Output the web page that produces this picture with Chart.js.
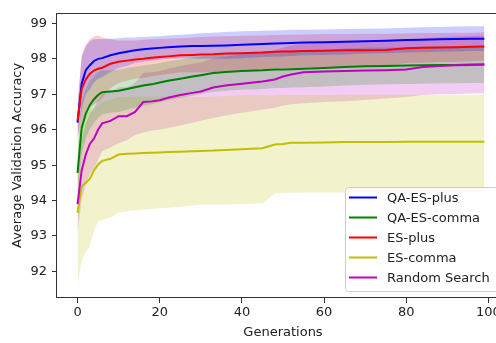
<!DOCTYPE html>
<html>
<head>
<meta charset="utf-8">
<script src="https://cdn.jsdelivr.net/npm/chart.js@4.4.0/dist/chart.umd.min.js"></script>
<style>
  html, body { margin: 0; padding: 0; background: #fff; overflow: hidden; }
  #wrap { width: 496px; height: 343px; overflow: hidden; }
</style>
</head>
<body>
<div id="wrap"><canvas id="accChart" width="520" height="343"></canvas></div>
<script>
// --- Data ---
const generations = [0, 1, 2, 3, 4, 5, 6, 8, 10, 12, 14, 16,
  18, 20, 22, 25, 28, 30, 33, 36, 40, 45, 48, 50,
  52, 55, 60, 65, 70, 75, 80, 84, 88, 92, 96, 99];

const qaEsPlusMean = [96.2, 97.3, 97.68, 97.82, 97.94, 98.0, 98.02, 98.1, 98.16, 98.2, 98.24, 98.27,
  98.29, 98.31, 98.33, 98.35, 98.36, 98.36, 98.37, 98.38, 98.4, 98.42, 98.43, 98.44,
  98.45, 98.46, 98.47, 98.48, 98.5, 98.51, 98.53, 98.54, 98.55, 98.56, 98.57, 98.57];
const qaEsPlusHigh = [96.7, 98.05, 98.35, 98.5, 98.55, 98.56, 98.56, 98.57, 98.58, 98.6, 98.6, 98.62,
  98.63, 98.64, 98.66, 98.68, 98.7, 98.72, 98.74, 98.76, 98.78, 98.79, 98.8, 98.81,
  98.82, 98.82, 98.83, 98.84, 98.85, 98.86, 98.88, 98.89, 98.9, 98.91, 98.92, 98.92];
const qaEsPlusLow = [95.7, 96.55, 97.0, 97.14, 97.33, 97.44, 97.48, 97.63, 97.74, 97.8, 97.88, 97.92,
  97.95, 97.98, 98.0, 98.02, 98.02, 98.0, 98.0, 98.0, 98.02, 98.05, 98.06, 98.07,
  98.08, 98.1, 98.11, 98.12, 98.15, 98.16, 98.18, 98.19, 98.2, 98.21, 98.22, 98.22];

const qaEsCommaMean = [94.78, 96.05, 96.45, 96.7, 96.86, 96.98, 97.06, 97.08, 97.1, 97.15, 97.2, 97.25,
  97.28, 97.33, 97.38, 97.44, 97.5, 97.54, 97.6, 97.63, 97.66, 97.68, 97.7, 97.7,
  97.71, 97.72, 97.74, 97.77, 97.79, 97.8, 97.81, 97.82, 97.83, 97.83, 97.84, 97.84];
const qaEsCommaHigh = [95.4, 96.8, 97.15, 97.38, 97.52, 97.62, 97.68, 97.68, 97.7, 97.74, 97.78, 97.82,
  97.84, 97.88, 97.93, 97.98, 98.04, 98.07, 98.13, 98.16, 98.19, 98.21, 98.22, 98.22,
  98.23, 98.24, 98.26, 98.29, 98.31, 98.32, 98.33, 98.34, 98.35, 98.35, 98.36, 98.36];
const qaEsCommaLow = [94.16, 95.3, 95.75, 96.02, 96.2, 96.34, 96.44, 96.48, 96.5, 96.56, 96.62, 96.68,
  96.72, 96.78, 96.83, 96.9, 96.96, 97.01, 97.07, 97.1, 97.13, 97.15, 97.18, 97.18,
  97.19, 97.2, 97.22, 97.25, 97.27, 97.28, 97.29, 97.3, 97.31, 97.31, 97.32, 97.32];

const esPlusMean = [96.25, 97.15, 97.42, 97.58, 97.67, 97.72, 97.75, 97.86, 97.92, 97.95, 97.98, 98.0,
  98.03, 98.05, 98.07, 98.1, 98.11, 98.12, 98.13, 98.15, 98.16, 98.18, 98.2, 98.21,
  98.21, 98.22, 98.23, 98.24, 98.24, 98.25, 98.3, 98.31, 98.32, 98.33, 98.34, 98.35];
const esPlusHigh = [96.75, 98.1, 98.4, 98.55, 98.63, 98.66, 98.6, 98.55, 98.52, 98.52, 98.52, 98.54,
  98.55, 98.56, 98.57, 98.58, 98.6, 98.62, 98.63, 98.64, 98.65, 98.66, 98.67, 98.68,
  98.68, 98.69, 98.7, 98.7, 98.71, 98.71, 98.72, 98.73, 98.73, 98.74, 98.74, 98.75];
const esPlusLow = [95.75, 96.2, 96.44, 96.61, 96.71, 96.78, 96.9, 97.17, 97.32, 97.38, 97.44, 97.46,
  97.51, 97.54, 97.57, 97.62, 97.62, 97.62, 97.63, 97.66, 97.67, 97.7, 97.73, 97.74,
  97.74, 97.75, 97.76, 97.78, 97.77, 97.79, 97.88, 97.89, 97.91, 97.92, 97.94, 97.95];

const esCommaMean = [93.65, 94.4, 94.5, 94.62, 94.85, 95.02, 95.12, 95.18, 95.3, 95.32, 95.33, 95.34,
  95.35, 95.36, 95.37, 95.38, 95.39, 95.4, 95.41, 95.43, 95.45, 95.48, 95.58, 95.6,
  95.63, 95.63, 95.64, 95.65, 95.65, 95.65, 95.66, 95.66, 95.66, 95.66, 95.66, 95.66];
const esCommaHigh = [95.7, 96.2, 96.4, 96.55, 96.6, 96.64, 96.78, 96.84, 96.92, 96.92, 96.93, 96.93,
  96.93, 96.93, 96.93, 96.93, 96.92, 96.92, 96.93, 96.95, 96.97, 96.98, 96.96, 96.97,
  96.98, 96.98, 96.98, 96.99, 96.99, 96.99, 96.99, 96.99, 96.99, 96.99, 96.99, 96.99];
const esCommaLow = [91.6, 92.3, 92.55, 92.72, 93.15, 93.4, 93.45, 93.52, 93.66, 93.7, 93.72, 93.74,
  93.76, 93.78, 93.8, 93.82, 93.86, 93.88, 93.88, 93.89, 93.9, 93.92, 94.2, 94.22,
  94.22, 94.23, 94.23, 94.23, 94.23, 94.23, 94.23, 94.23, 94.23, 94.23, 94.23, 94.23];

const randomMean = [93.9, 94.85, 95.3, 95.6, 95.75, 96.0, 96.18, 96.25, 96.38, 96.38, 96.5, 96.78,
  96.8, 96.83, 96.9, 96.98, 97.04, 97.08, 97.19, 97.25, 97.3, 97.36, 97.42, 97.5,
  97.56, 97.62, 97.64, 97.66, 97.67, 97.68, 97.7, 97.77, 97.8, 97.82, 97.83, 97.84];
const randomHigh = [94.72, 95.7, 96.15, 96.45, 96.6, 96.84, 97.0, 97.07, 97.2, 97.2, 97.32, 97.6,
  97.62, 97.65, 97.72, 97.8, 97.86, 97.9, 98.01, 98.07, 98.12, 98.18, 98.24, 98.32,
  98.38, 98.44, 98.46, 98.48, 98.49, 98.5, 98.52, 98.59, 98.62, 98.64, 98.65, 98.66];
const randomLow = [93.08, 94.0, 94.45, 94.75, 94.9, 95.15, 95.4, 95.5, 95.62, 95.7, 95.85, 95.92,
  95.98, 96.0, 96.05, 96.12, 96.2, 96.25, 96.33, 96.4, 96.48, 96.56, 96.62, 96.68,
  96.72, 96.75, 96.78, 96.8, 96.84, 96.88, 96.92, 96.98, 97.0, 97.01, 97.02, 97.02];

const xTicks = [0, 20, 40, 60, 80, 100];
const yTicks = [92, 93, 94, 95, 96, 97, 98, 99];

// --- Series setup ---
const series = [
  { label: 'QA-ES-plus', color: 'rgb(0,0,255)', band: 'rgba(0,0,255,0.2)', mean: qaEsPlusMean, lo: qaEsPlusLow, hi: qaEsPlusHigh },
  { label: 'QA-ES-comma', color: 'rgb(0,128,0)', band: 'rgba(0,128,0,0.2)', mean: qaEsCommaMean, lo: qaEsCommaLow, hi: qaEsCommaHigh },
  { label: 'ES-plus', color: 'rgb(255,0,0)', band: 'rgba(255,0,0,0.2)', mean: esPlusMean, lo: esPlusLow, hi: esPlusHigh },
  { label: 'ES-comma', color: 'rgb(191,191,0)', band: 'rgba(191,191,0,0.2)', mean: esCommaMean, lo: esCommaLow, hi: esCommaHigh },
  { label: 'Random Search', color: 'rgb(191,0,191)', band: 'rgba(191,0,191,0.2)', mean: randomMean, lo: randomLow, hi: randomHigh }
];

const pts = arr => generations.map((g, i) => ({ x: g, y: arr[i] }));

const datasets = [];
series.forEach((s, i) => {
  // band: upper filled down to the next dataset (lower)
  datasets.push({ data: pts(s.hi), borderWidth: 0, pointRadius: 0, fill: '+1',
    backgroundColor: s.band, order: 20 + i });
  datasets.push({ data: pts(s.lo), borderWidth: 0, pointRadius: 0, fill: false, order: 20 + i });
});
series.forEach((s, i) => {
  datasets.push({ label: s.label, data: pts(s.mean), borderColor: s.color, borderWidth: 2,
    pointRadius: 0, fill: false, tension: 0, order: 10 - i });
});

const FONT = { family: '"DejaVu Sans", sans-serif', size: 13 };
const INK = '#222';

// frame round the plot area (matplotlib spines)
const framePlugin = {
  id: 'frame',
  afterDatasetsDraw(chart) {
    const { ctx, chartArea: a } = chart;
    ctx.save();
    ctx.strokeStyle = '#333';
    ctx.lineWidth = 1;
    ctx.strokeRect(Math.round(a.left) - 0.5, Math.round(a.top) + 0.5,
      Math.round(a.right - a.left) + 1, Math.round(a.bottom - a.top) - 1);
    ctx.restore();
  }
};

// legend box in the lower right corner
const legendPlugin = {
  id: 'boxLegend',
  afterDraw(chart) {
    const { ctx } = chart;
    const x0 = 345.5, y0 = 187.5, w = 160, h = 104;
    ctx.save();
    ctx.beginPath();
    ctx.roundRect(x0, y0, w, h, 3);
    ctx.fillStyle = 'rgba(255,255,255,0.8)';
    ctx.fill();
    ctx.strokeStyle = '#cccccc';
    ctx.lineWidth = 1;
    ctx.stroke();
    ctx.font = '13px "DejaVu Sans", sans-serif';
    ctx.textBaseline = 'middle';
    series.forEach((s, i) => {
      const y = 197.5 + i * 20;
      ctx.strokeStyle = s.color;
      ctx.lineWidth = 2;
      ctx.beginPath();
      ctx.moveTo(349, y);
      ctx.lineTo(377, y);
      ctx.stroke();
      ctx.fillStyle = INK;
      ctx.fillText(s.label, 387, y + 1);
    });
    ctx.restore();
  }
};

new Chart(document.getElementById('accChart'), {
  type: 'line',
  data: { datasets },
  options: {
    responsive: false,
    animation: false,
    layout: { padding: { top: 6, right: 11, left: 0, bottom: 0 } },
    plugins: { legend: { display: false }, tooltip: { enabled: false } },
    scales: {
      x: {
        type: 'linear', min: -5, max: 105,
        afterBuildTicks: s => { s.ticks = xTicks.map(v => ({ value: v })); },
        afterFit: s => { s.height = 45; },
        grid: { display: true, drawOnChartArea: false, drawTicks: true, tickLength: 5, color: '#333' },
        border: { display: false },
        ticks: { font: FONT, color: INK, padding: 2, maxRotation: 0 },
        title: { display: true, text: 'Generations', font: FONT, color: INK, padding: { top: 0, bottom: 3 } }
      },
      y: {
        type: 'linear', min: 91.25, max: 99.3,
        afterBuildTicks: s => { s.ticks = yTicks.map(v => ({ value: v })); },
        afterFit: s => { s.width = 57; },
        grid: { display: true, drawOnChartArea: false, drawTicks: true, tickLength: 5, color: '#333' },
        border: { display: false },
        ticks: { font: FONT, color: INK, padding: 5 },
        title: { display: true, text: 'Average Validation Accuracy', font: FONT, color: INK, padding: { top: 10, bottom: 0 } }
      }
    }
  },
  plugins: [framePlugin, legendPlugin]
});
</script>
</body>
</html>
